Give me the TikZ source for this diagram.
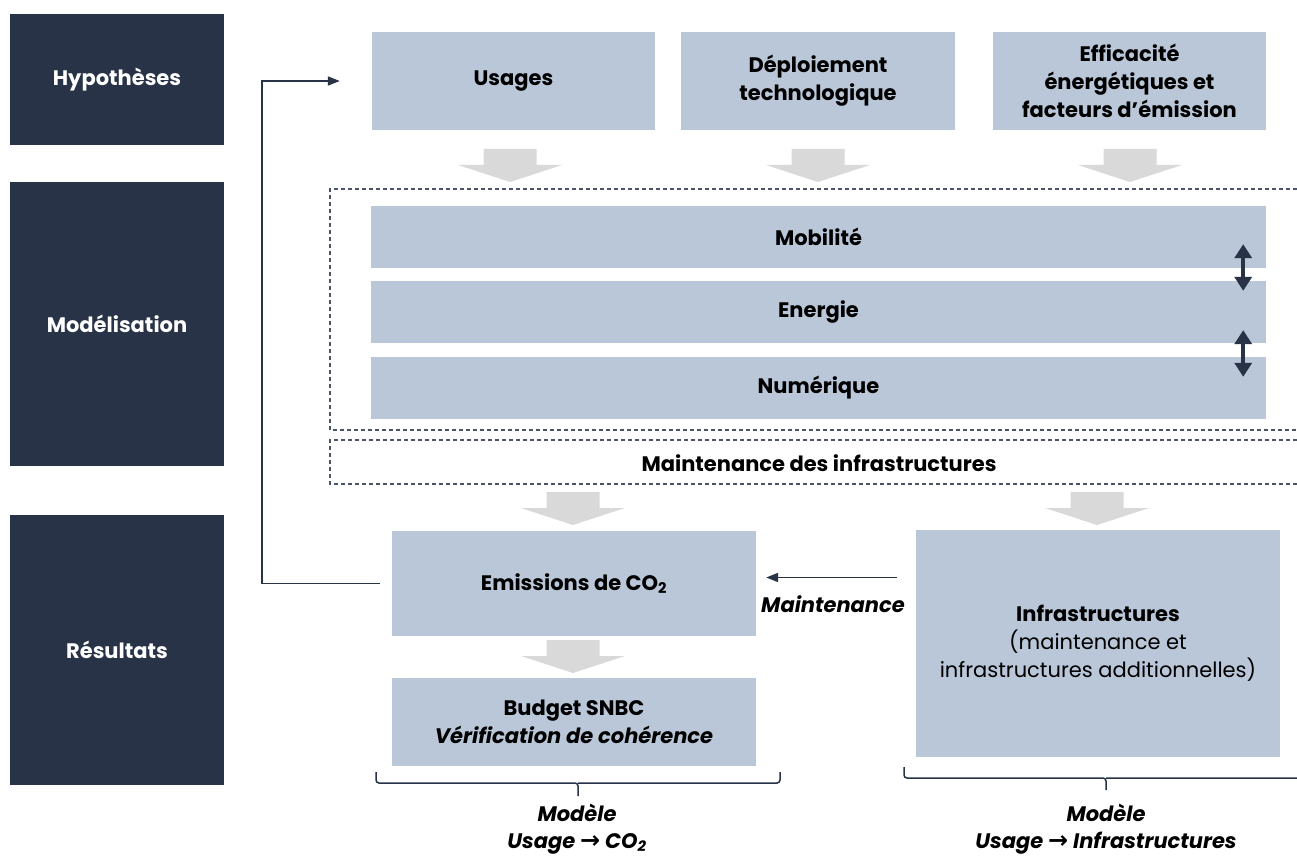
\documentclass[tikz,border=0pt]{standalone}
\usepackage{fontspec}
\setmainfont{Poppins}
\newfontfamily\symfont{DejaVu Sans}
\usetikzlibrary{arrows.meta}
\definecolor{navy}{HTML}{283347}
\definecolor{bluegrey}{HTML}{B9C7D9}
\definecolor{lightgrey}{HTML}{D9D9D9}
\definecolor{dashgrey}{HTML}{4A5466}

\begin{document}
\begin{tikzpicture}[x=1pt,y=-1pt,font=\fontsize{21}{28}\selectfont]
    \tikzstyle{phase}=[fill=navy,text=white,font=\fontsize{21}{28}\selectfont\bfseries,minimum width=214pt,inner sep=0pt]
    \tikzstyle{box}=[fill=bluegrey,align=center,inner sep=0pt,font=\fontsize{21}{28}\selectfont\bfseries]
    \tikzstyle{frame}=[draw=dashgrey,line width=1.2pt,dash pattern=on 4pt off 3pt]
    \tikzstyle{link}=[draw=navy,line width=1.8pt,-{Triangle[length=12pt,width=9pt]}]
    \tikzstyle{swap}=[draw=navy,line width=4pt,{Triangle[length=14pt,width=17pt]}-{Triangle[length=14pt,width=17pt]}]
    \tikzstyle{brace}=[draw=navy,line width=1.5pt,rounded corners=3pt]
    \useasboundingbox (0,0) rectangle (1297,858);
    \node[phase,minimum height=131pt] (p_1) at (117,79.5) {Hypothèses};
    \node[phase,minimum height=284pt] (p_2) at (117,324) {Modélisation};
    \node[phase,minimum height=270pt] (p_3) at (117,650) {Résultats};
    \node[box,minimum width=283pt,minimum height=98pt] (u_1) at (513.5,81) {Usages};
    \node[box,minimum width=274pt,minimum height=98pt] (u_2) at (818,81) {Déploiement\\technologique};
    \node[box,minimum width=273pt,minimum height=98pt] (u_3) at (1129.5,81) {Efficacité\\énergétiques et\\facteurs d’émission};
    \foreach \x/\y in {510/149,818/149,1130/149,573/492,1097/492,573/640}
      \fill[lightgrey] (\x-26.5,\y) -- (\x+26.5,\y) -- (\x+26.5,\y+16) -- (\x+52,\y+16) -- (\x,\y+33) -- (\x-52,\y+16) -- (\x-26.5,\y+16) -- cycle;
    \draw[frame] (1297,189) -| (330,430) -- (1297,430);
    \draw[frame] (1297,440) -| (330,484) -- (1297,484);
    \node[box,minimum width=895pt,minimum height=62pt] (m_1) at (818.5,237) {Mobilité};
    \node[box,minimum width=895pt,minimum height=62pt] (m_2) at (818.5,312) {Energie};
    \node[box,minimum width=895pt,minimum height=62pt] (m_3) at (818.5,388) {Numérique};
    \draw[swap] ([xshift=-23pt,yshift=24pt]m_1.south east) -- ([xshift=-23pt,yshift=-10pt]m_2.north east);
    \draw[swap] ([xshift=-23pt,yshift=13pt]m_2.south east) -- ([xshift=-23pt,yshift=-20pt]m_3.north east);
    \node[font=\fontsize{21}{28}\selectfont\bfseries] (t_1) at (819,463) {Maintenance des infrastructures};
    \node[box,minimum width=364pt,minimum height=105pt] (e_1) at (574,583.5) {Emissions de CO\textsubscript{2}};
    \node[box,minimum width=364pt,minimum height=88pt] (b_1) at (574,722) {Budget SNBC\\\itshape Vérification de cohérence};
    \node[box,minimum width=364pt,minimum height=227pt] (i_1) at (1098,643.5) {Infrastructures\\\mdseries(maintenance et\\\mdseries infrastructures additionnelles)};
    \coordinate (c_1) at (262,583.5);
    \coordinate (c_2) at ([yshift=6pt]e_1.east);
    \draw[link,shorten <=12pt,shorten >=32pt] (e_1.west) -- (c_1) |- (u_1.west);
    \draw[link,shorten <=19pt,shorten >=10pt] (c_2 -| i_1.west) -- (c_2);
    \node[font=\fontsize{21}{28}\selectfont\bfseries\itshape] (l_1) at (833,604) {Maintenance};
    \draw[brace] (376,772) |- (578,783) -- (578,796) (578,783) -| (780,772);
    \draw[brace] (904,767) |- (1106,778) -- (1106,790) (1106,778) -- (1297,778);
    \node[align=center,font=\fontsize{21}{27}\selectfont\bfseries\itshape] (l_2) at (577,829) {Modèle\\Usage {\symfont\bfseries\fontsize{24}{27}\selectfont →} CO\textsubscript{2}};
    \node[align=center,font=\fontsize{21}{27}\selectfont\bfseries\itshape] (l_3) at (1106,829) {Modèle\\Usage {\symfont\bfseries\fontsize{24}{27}\selectfont →} Infrastructures};
\end{tikzpicture}
\end{document}
